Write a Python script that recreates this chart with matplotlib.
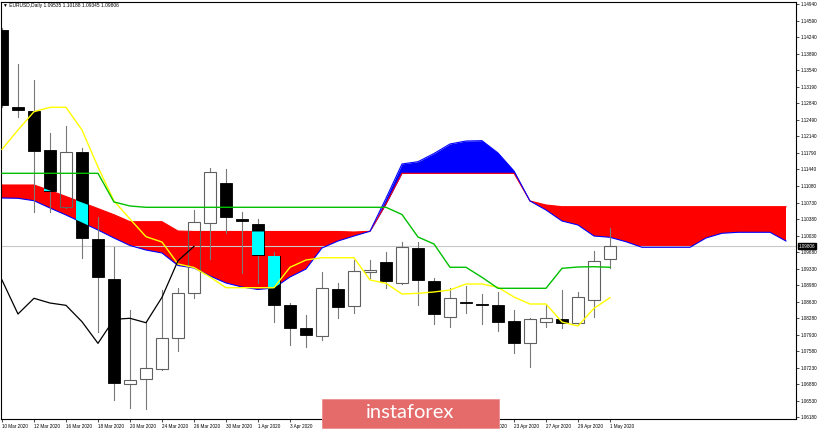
import numpy as np
import matplotlib.pyplot as plt
from matplotlib.patches import Rectangle
from matplotlib.collections import PatchCollection
from matplotlib.path import Path

# daily bars, EURUSD
dates = ['10 Mar', '11 Mar', '12 Mar', '13 Mar', '16 Mar', '17 Mar', '18 Mar', '19 Mar',
         '20 Mar', '23 Mar', '24 Mar', '25 Mar', '26 Mar', '27 Mar', '30 Mar', '31 Mar',
         '1 Apr', '2 Apr', '3 Apr', '6 Apr', '7 Apr', '8 Apr', '9 Apr', '10 Apr',
         '13 Apr', '14 Apr', '15 Apr', '16 Apr', '17 Apr', '20 Apr', '21 Apr', '22 Apr',
         '23 Apr', '24 Apr', '27 Apr', '28 Apr', '29 Apr', '30 Apr', '1 May']
opens = [1.14395, 1.12755, 1.12683, 1.11849, 1.10634, 1.11801, 1.09962, 1.09113,
         1.06886, 1.06992, 1.07198, 1.07855, 1.08823, 1.10307, 1.11156, 1.10386,
         1.10280, 1.09601, 1.08562, 1.08074, 1.07904, 1.08901, 1.08541, 1.09268,
         1.09480, 1.09035, 1.09771, 1.09071, 1.08314, 1.08625, 1.08589, 1.08562,
         1.08222, 1.07749, 1.08195, 1.08265, 1.08174, 1.08668, 1.09535]
highs = [1.14437, 1.13667, 1.13334, 1.12204, 1.12358, 1.11885, 1.10435, 1.09798,
         1.08456, 1.08207, 1.08880, 1.08929, 1.10577, 1.11461, 1.11440, 1.10541,
         1.10386, 1.09680, 1.08600, 1.08350, 1.09268, 1.09022, 1.09516, 1.09516,
         1.09680, 1.09904, 1.09904, 1.09134, 1.08916, 1.08965, 1.08789, 1.08844,
         1.08456, 1.08280, 1.08562, 1.08880, 1.08844, 1.09713, 1.10188]
lows = [1.12762, 1.12556, 1.10541, 1.10541, 1.10620, 1.09552, 1.07995, 1.06547,
        1.06371, 1.06349, 1.07183, 1.07586, 1.08704, 1.09531, 1.10083, 1.09247,
        1.09022, 1.08195, 1.07713, 1.07677, 1.07819, 1.08292, 1.08398, 1.09128,
        1.08916, 1.09007, 1.08562, 1.08152, 1.08101, 1.08398, 1.08152, 1.08017,
        1.07537, 1.07253, 1.08101, 1.08080, 1.08160, 1.08314, 1.09345]
closes = [1.12804, 1.12698, 1.11835, 1.10986, 1.11801, 1.09976, 1.09149, 1.06914,
          1.06971, 1.07232, 1.07868, 1.08810, 1.10329, 1.11376, 1.10435, 1.10343,
          1.09616, 1.08562, 1.08067, 1.07925, 1.08922, 1.08526, 1.09289, 1.09304,
          1.09077, 1.09798, 1.09092, 1.08371, 1.08704, 1.08604, 1.08555, 1.08207,
          1.07749, 1.08258, 1.08280, 1.08186, 1.08725, 1.09501, 1.09806]

# ichimoku lines
tenkan = [1.11864, 1.12274, 1.12662, 1.12755, 1.12755, 1.12274, 1.11489, 1.10768,
          1.10386, 1.10011, 1.09898, 1.09432, 1.09357, 1.09156, 1.08929, 1.08929,
          1.08929, 1.08929, 1.09362, 1.09516, 1.09565, 1.09565, 1.09565, 1.09092,
          1.09022, 1.08795, 1.08810, 1.08838, 1.08880, 1.09007, 1.09007, 1.08937,
          1.08731, 1.08583, 1.08583, 1.08201, 1.08116, 1.08492, 1.08717]
kijun = [1.11355, 1.11355, 1.11355, 1.11355, 1.11355, 1.11355, 1.11355, 1.10747,
         1.10662, 1.10634, 1.10634, 1.10634, 1.10634, 1.10634, 1.10634, 1.10634,
         1.10634, 1.10634, 1.10634, 1.10634, 1.10634, 1.10634, 1.10634, 1.10634,
         1.10634, 1.10481, 1.10004, 1.09856, 1.09362, 1.09362, 1.09149, 1.08916,
         1.08916, 1.08916, 1.08916, 1.09340, 1.09368, 1.09374, 1.09362]
span_a = [1.10831, 1.10825, 1.10774, 1.10619, 1.10471, 1.10312, 1.10153, 1.09983,
          1.09824, 1.09728, 1.09665, 1.09400, 1.09347, 1.09177, 1.09029, 1.08944,
          1.08891, 1.08922, 1.09156, 1.09325, 1.09771, 1.09919, 1.10025, 1.10125,
          1.10825, 1.11553, 1.11601, 1.11775, 1.11977, 1.12040, 1.12047, 1.11786,
          1.11404, 1.10768, 1.10577, 1.10344, 1.10259, 1.10025, 1.09998, 1.09904,
          1.09786, 1.09786, 1.09786, 1.09786, 1.09983, 1.10083, 1.10104, 1.10104,
          1.10104, 1.09919]
span_b = [1.11107, 1.11107, 1.11107, 1.10990, 1.10863, 1.10736, 1.10607, 1.10477,
          1.10329, 1.10329, 1.10329, 1.10131, 1.10121, 1.10121, 1.10121, 1.10121,
          1.10121, 1.10121, 1.10121, 1.10121, 1.10121, 1.10121, 1.10110, 1.10125,
          1.10704, 1.11355, 1.11355, 1.11355, 1.11355, 1.11355, 1.11355, 1.11355,
          1.11355, 1.10768, 1.10683, 1.10647, 1.10647, 1.10647, 1.10647, 1.10647,
          1.10647, 1.10647, 1.10647, 1.10647, 1.10647, 1.10647, 1.10647, 1.10647,
          1.10647, 1.10647]
last_price = 1.09806
price_ticks = [1.14940, 1.14590, 1.14240, 1.13890, 1.13540, 1.13190, 1.12840, 1.12490,
               1.12140, 1.11790, 1.11440, 1.11080, 1.10730, 1.10380, 1.10030, 1.09680,
               1.09330, 1.08980, 1.08630, 1.08280, 1.07930, 1.07580, 1.07230, 1.06880,
               1.06530, 1.06180]

plt.rcParams['font.family'] = ['Liberation Sans', 'DejaVu Sans']

fig = plt.figure(figsize=(8.2, 4.3), dpi=100)
ax = fig.add_axes([1.5 / 820, 11 / 430, 794.5 / 820, 417.5 / 430])
ax.set_xlim(-0.03, 49.625)
ax.set_ylim(1.06144, 1.14999)

n = len(closes)
x = np.arange(n)
xc = np.arange(len(span_a))
a = np.array(span_a)
b = np.array(span_b)

# cloud
red = ax.fill_between(xc, a, b, where=a <= b, interpolate=True, color='#ff0000', lw=0, zorder=1)
ax.fill_between(xc, a, b, where=a >= b, interpolate=True, color='#0000ff', lw=0, zorder=1)
ax.plot(xc, b, color='#ff0000', lw=0.8, zorder=1.5)
ax.plot(xc, a, color='#0000ff', lw=0.8, zorder=1.5)

ax.axhline(last_price, color='#c8c8c8', lw=0.8, zorder=1.2)

# candles
w = 0.76
wick_col = '#7a7a7a'
cyan_rects = []
for i in range(n):
    o, h, l, c = opens[i], highs[i], lows[i], closes[i]
    top, bot = max(o, c), min(o, c)
    ax.plot([i, i], [top, h], color=wick_col, lw=0.8, zorder=2)
    ax.plot([i, i], [l, bot], color=wick_col, lw=0.8, zorder=2)
    hgt = max(top - bot, 0.0002)
    if c < o:
        ax.add_patch(Rectangle((i - w / 2, bot), w, hgt, fc='black', ec='black', lw=0.6, zorder=2.2))
        cyan_rects.append(Rectangle((i - w / 2, bot), w, hgt))
    else:
        ax.add_patch(Rectangle((i - w / 2, bot), w, hgt, fc='none', ec='#606060', lw=0.8, zorder=2.2))

# black bodies over the red cloud show up cyan
pc = PatchCollection(cyan_rects, fc='#00ffff', ec='none', zorder=2.4)
clip = Path.make_compound_path(*red.get_paths())
ax.add_collection(pc)
pc.set_clip_path(clip, ax.transData)

ax.plot(x, tenkan, color='#ffff00', lw=1.0, zorder=3)
ax.plot(x, kijun, color='#00c000', lw=1.0, zorder=3)
lag = 26
ax.plot(x[:n - lag], closes[lag:], color='black', lw=0.9, zorder=3)

# axes styling
for s in ax.spines.values():
    s.set_color('black')
    s.set_linewidth(0.8)
ax.yaxis.tick_right()
ax.set_yticks(price_ticks)
ax.set_yticklabels(['%.5f' % p for p in price_ticks])
ax.tick_params(axis='y', labelsize=3.3, length=2, width=0.5, pad=1.2)
ax.set_xticks(x[::2])
ax.set_xticklabels([d + ' 2020' for d in dates[::2]], ha='left')
ax.tick_params(axis='x', labelsize=3.3, length=2, width=0.5, pad=1.5)

ax.text(1 + 3 / 794.5, last_price, '%.5f' % last_price, transform=ax.get_yaxis_transform(),
        ha='left', va='center', fontsize=3.3, color='white', zorder=5,
        bbox=dict(fc='black', ec='black', pad=0.4))

fig.text(3 / 820, 1 - 6 / 430, '\u25bc EURUSD,Daily 1.09535 1.10188 1.09345 1.09806',
         fontsize=3.5, va='center', ha='left')

# watermark banner
fig.patches.append(Rectangle((322 / 820, 2 / 430), 177 / 820, 29 / 430, transform=fig.transFigure,
                             fc='#e56b6b', ec='#ee9090', lw=0.6, zorder=10))
fig.text(410 / 820, (430 - 413) / 430, 'instaforex', family='Lato', fontsize=14.5,
         color='white', ha='center', va='center', zorder=11)

fig.savefig('out.png', dpi=100)
